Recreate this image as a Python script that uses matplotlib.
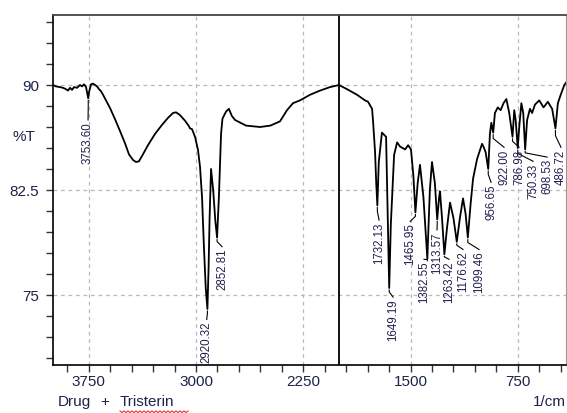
import numpy as np
import matplotlib
matplotlib.use("Agg")
import matplotlib.pyplot as plt
from matplotlib.ticker import MultipleLocator

# ---- spectrum trace (wavenumber 1/cm, %T) ----
wavenumber = [4000, 3979, 3951, 3930, 3909, 3895, 3881, 3867, 3853, 3832,
              3811, 3797, 3783, 3769, 3753.6, 3748, 3734, 3720, 3706, 3692,
              3678, 3664, 3650, 3629, 3601, 3566, 3531, 3497, 3469, 3441,
              3420, 3399, 3371, 3336, 3287, 3238, 3196, 3161, 3140, 3112,
              3077, 3049, 3042, 3028, 3007, 2986, 2972, 2958, 2945, 2932,
              2920.32, 2912, 2905, 2895, 2880, 2865, 2852.81, 2840, 2825, 2815,
              2790, 2770, 2750, 2727, 2650, 2552, 2480, 2413, 2364, 2322,
              2273, 2203, 2133, 2063, 2000, 1944, 1874, 1818, 1797, 1769,
              1762, 1748, 1740, 1732.13, 1722, 1700, 1671, 1660, 1649.19, 1638,
              1615, 1594, 1573, 1538, 1517, 1497, 1480, 1465.95, 1450, 1434,
              1410, 1382.55, 1365, 1350, 1330, 1313.57, 1300, 1294, 1280, 1263.42,
              1245, 1224, 1200, 1176.62, 1155, 1133, 1115, 1099.46, 1080, 1063,
              1035, 1000, 990, 975, 956.65, 945, 935, 922, 910, 890,
              870, 850, 830, 810, 786.98, 775, 765, 750.33, 740, 725,
              712, 698.53, 685, 665, 650, 630, 600, 570, 540, 510,
              486.72, 470, 450, 425, 410]
transmittance = [90.0, 89.9, 89.85, 89.8, 89.7, 89.6, 89.8, 89.65, 89.85, 89.8,
                 90.0, 89.9, 90.05, 89.85, 89.05, 89.5, 90.05, 90.1, 90.0, 89.9,
                 89.7, 89.55, 89.3, 88.9, 88.35, 87.55, 86.7, 85.85, 85.05, 84.65,
                 84.5, 84.55, 85.05, 85.7, 86.5, 87.15, 87.65, 88.0, 88.05, 87.85,
                 87.45, 87.05, 86.9, 86.85, 86.3, 85.35, 84.15, 82.0, 78.5, 75.5,
                 74.0, 77.0, 80.5, 84.0, 82.5, 80.3, 79.1, 82.0, 86.5, 87.6,
                 88.1, 88.3, 87.8, 87.5, 87.1, 87.0, 87.1, 87.4, 88.2, 88.7,
                 88.9, 89.3, 89.6, 89.85, 90.0, 89.7, 89.3, 88.9, 88.8, 88.3,
                 87.4, 85.2, 83.0, 81.4, 84.5, 86.6, 86.3, 81.0, 75.5, 80.0,
                 85.0, 85.9, 85.6, 85.4, 85.7, 85.4, 83.5, 80.9, 83.0, 84.3,
                 82.0, 77.6, 82.5, 84.5, 83.0, 80.4, 82.0, 82.4, 80.5, 77.9,
                 79.8, 81.6, 80.5, 78.8, 80.5, 81.9, 80.8, 79.1, 81.5, 83.3,
                 84.7, 85.8, 85.6, 85.2, 84.0, 86.5, 87.3, 86.6, 88.0, 88.4,
                 88.2, 88.7, 89.0, 88.0, 86.3, 88.2, 87.5, 85.5, 87.0, 88.7,
                 88.0, 85.4, 87.5, 88.3, 88.0, 88.6, 88.9, 88.4, 88.8, 88.3,
                 86.9, 88.7, 89.3, 90.0, 90.2]

# ---- peak labels ----
peak_wn = [3753.6, 2920.32, 2852.81, 1732.13, 1649.19, 1465.95, 1382.55,
           1313.57, 1263.42, 1176.62, 1099.46, 956.65, 922.00, 786.98,
           750.33, 698.53, 486.72]
peak_text = ["3753.60", "2920.32", "2852.81", "1732.13", "1649.19", "1465.95",
             "1382.55", "1313.57", "1263.42", "1176.62", "1099.46", "956.65",
             "922.00", "786.98", "750.33", "698.53", "486.72"]
# where each label sits (wavenumber, top of text in %T)
label_wn = [3755, 2925, 2818, 1720, 1622, 1503, 1406, 1315, 1231, 1133, 1021,
            937, 846, 741, 643, 545, 448]
label_top = [87.35, 73.1, 78.3, 80.2, 74.7, 80.1, 77.4, 79.5, 77.4, 78.1, 78.1,
             82.9, 85.4, 85.4, 84.4, 84.7, 85.4]

xticks = [3750, 3000, 2250, 1500, 750]
yticks = [75, 82.5, 90]

W, H = 567, 413
plt.rcParams['font.family'] = ['Liberation Sans', 'DejaVu Sans']
fig = plt.figure(figsize=(W / 100, H / 100), dpi=100)
ax = fig.add_axes([53 / W, 1 - 365 / H, 513 / W, 350 / H])

tick_col = '#1c2448'
wn = np.array(wavenumber)
tt = np.array(transmittance)
ax.plot(wn, tt, color='black', lw=1.3)
ax.axvline(2000, color='black', lw=1.3)

ax.set_xlim(4000, 413)
ax.set_ylim(70, 95)
ax.set_xticks(xticks)
ax.set_yticks(yticks)
ax.set_yticklabels(['75', '82.5', '90'])
ax.xaxis.set_minor_locator(MultipleLocator(150))
ax.yaxis.set_minor_locator(MultipleLocator(1.5))
ax.tick_params(which='both', direction='out', length=5, width=1, color='#333333')
ax.tick_params(axis='x', which='both', top=False, pad=2, labelsize=11, labelcolor=tick_col)
ax.tick_params(axis='y', which='both', right=False, pad=5, labelsize=11, labelcolor=tick_col)
ax.grid(True, which='major', ls=(0, (3, 3)), color='#b8b8b8', lw=0.9)
for s in ['left', 'bottom']:
    ax.spines[s].set_linewidth(1.2)
ax.spines['top'].set_color('#444444')
ax.spines['top'].set_linewidth(1.3)
ax.spines['right'].set_color('#999999')
ax.spines['right'].set_linewidth(0.8)

# peak labels with short leader lines
for pw, txt, lw_, lt in zip(peak_wn, peak_text, label_wn, label_top):
    pt = np.interp(pw, wn[::-1], tt[::-1])
    mid = pt - 0.35 * (pt - lt)
    ax.plot([pw, pw, lw_], [pt - 0.15, mid, lt + 0.15], color='black', lw=0.8)
    ax.text(lw_, lt, txt, rotation=90, ha='center', va='top', fontsize=8.3,
            color='#202050')

fig.text(24 / W, 1 - 137 / H, '%T', ha='center', va='center', fontsize=11, color=tick_col)
fig.text(566 / W, 1 - 402 / H, '1/cm', ha='right', va='center', fontsize=11, color=tick_col)
fig.text(58 / W, 1 - 402 / H, 'Drug', ha='left', va='center', fontsize=11, color=tick_col)
fig.text(105 / W, 1 - 402 / H, '+', ha='center', va='center', fontsize=11, color=tick_col)
fig.text(120 / W, 1 - 402 / H, 'Tristerin', ha='left', va='center', fontsize=11,
         color=tick_col)

# spell-check squiggle under "Tristerin"
sx = np.arange(120, 189, 2)
sy = 411 + np.where(np.arange(len(sx)) % 2 == 0, 0, 1.5)
fig.add_artist(plt.Line2D(sx / W, 1 - sy / H, color='#e03030', lw=0.8))

fig.savefig('out.png', dpi=100)
